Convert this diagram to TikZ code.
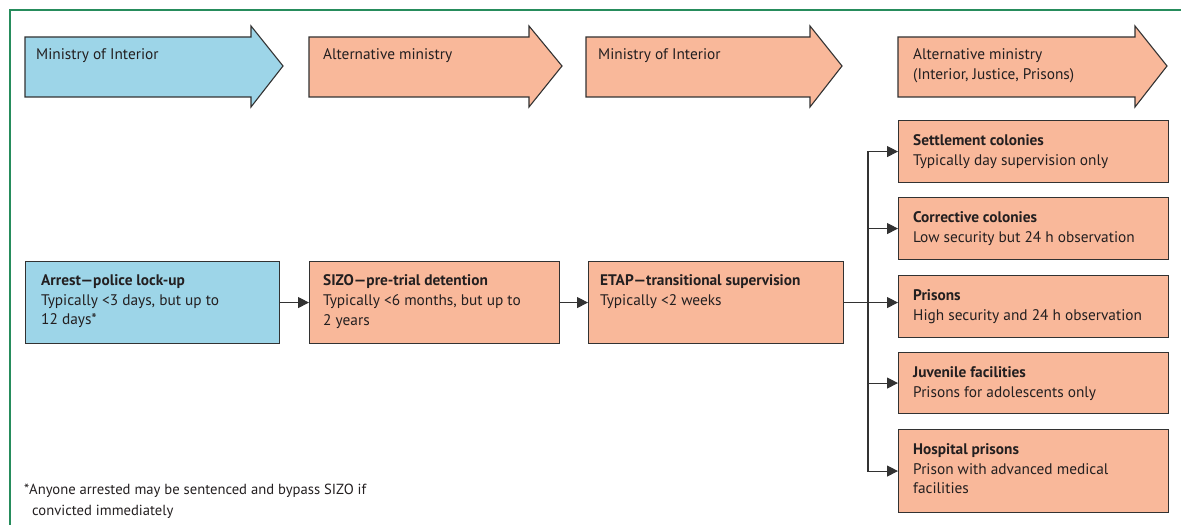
\documentclass[tikz,border=0pt]{standalone}
\usepackage{fontspec}
\setmainfont{PT Sans}
\usetikzlibrary{arrows.meta}
\definecolor{frameg}{RGB}{38,140,92}
\definecolor{bluef}{RGB}{157,213,232}
\definecolor{salmon}{RGB}{249,184,154}
\definecolor{edge}{RGB}{50,50,50}
\definecolor{ink}{RGB}{35,31,32}
\tikzset{
  boxshape/.style={draw=edge, line width=1.1bp, inner sep=0pt, anchor=north west},
  bluebox/.style={boxshape, fill=bluef},
  salbox/.style={boxshape, fill=salmon},
  txt/.style={anchor=north west, inner sep=0pt, align=left, text=ink,
    font=\fontsize{15.4}{20}\selectfont},
  conn/.style={draw=edge, line width=1.1bp, -{Triangle[length=11bp,width=11bp]}},
  bigarrow/.style={draw=edge, line width=1.1bp, line join=miter}
}
\begin{document}
\begin{tikzpicture}[x=1bp,y=-1bp]
\useasboundingbox (0,0) rectangle (1181,525);
% frame
\draw[frameg, line width=1.4bp] (10,525) -- (10,10) -- (1181,10);

% ministry arrows
\foreach \xa/\xh/\xt/\col in {25/251/283/bluef, 309/529/562/salmon, 586/810/842/salmon, 898/1135/1167/salmon}{
  \filldraw[bigarrow, fill=\col] (\xa,37) -- (\xh,37) -- (\xh,26) -- (\xt,66) -- (\xh,107) -- (\xh,97) -- (\xa,97) -- cycle;
}
\node[txt] (m1) at (36,48) {Ministry of Interior};
\node[txt] (m2) at (323,48) {Alternative ministry};
\node[txt] (m3) at (598,48) {Ministry of Interior};
\node[txt] (m4) at (913,48) {Alternative ministry\\(Interior, Justice, Prisons)};

% middle row
\node[bluebox, minimum width=254bp, minimum height=82bp] (arrest) at (25,261) {};
\node[salbox, minimum width=250bp, minimum height=82bp] (sizo) at (309,261) {};
\node[salbox, minimum width=255bp, minimum height=82bp] (etap) at (588,261) {};
\node[txt] (t1) at (41,274) {\textbf{Arrest—police lock-up}\\Typically <3 days, but up to\\12 days*};
\node[txt] (t2) at (323,274) {\textbf{SIZO—pre-trial detention}\\Typically <6 months, but up to\\2 years};
\node[txt] (t3) at (600,274) {\textbf{ETAP—transitional supervision}\\Typically <2 weeks};

% right column
\node[salbox, minimum width=270bp, minimum height=62bp] (settle) at (898,120) {};
\node[salbox, minimum width=270bp, minimum height=62bp] (corr) at (898,197) {};
\node[salbox, minimum width=270bp, minimum height=62bp] (pris) at (898,275) {};
\node[salbox, minimum width=270bp, minimum height=61bp] (juv) at (898,352) {};
\node[salbox, minimum width=270bp, minimum height=83bp] (hosp) at (898,429) {};
\node[txt] at (913,134) {\textbf{Settlement colonies}\\Typically day supervision only};
\node[txt] at (913,211) {\textbf{Corrective colonies}\\Low security but 24 h observation};
\node[txt] at (913,289) {\textbf{Prisons}\\High security and 24 h observation};
\node[txt] at (913,366) {\textbf{Juvenile facilities}\\Prisons for adolescents only};
\node[txt] at (913,443) {\textbf{Hospital prisons}\\Prison with advanced medical\\facilities};

% connectors
\draw[conn] (arrest.east) -- (sizo.west);
\draw[conn] (sizo.east) -- (etap.west);
\coordinate (tr) at (868,302);
\draw[conn] (etap.east) -- (pris.west |- etap.east);
\draw[conn] (tr) |- (settle.west);
\draw[conn] (tr) |- (corr.west);
\draw[conn] (tr) |- (juv.west);
\draw[conn] (tr) |- (hosp.west);

% footnote
\node[txt, font=\fontsize{14.7}{21}\selectfont] (fn) at (24,484) {*Anyone arrested may be sentenced and bypass SIZO if\\\hspace*{8bp}convicted immediately};
\end{tikzpicture}
\end{document}
